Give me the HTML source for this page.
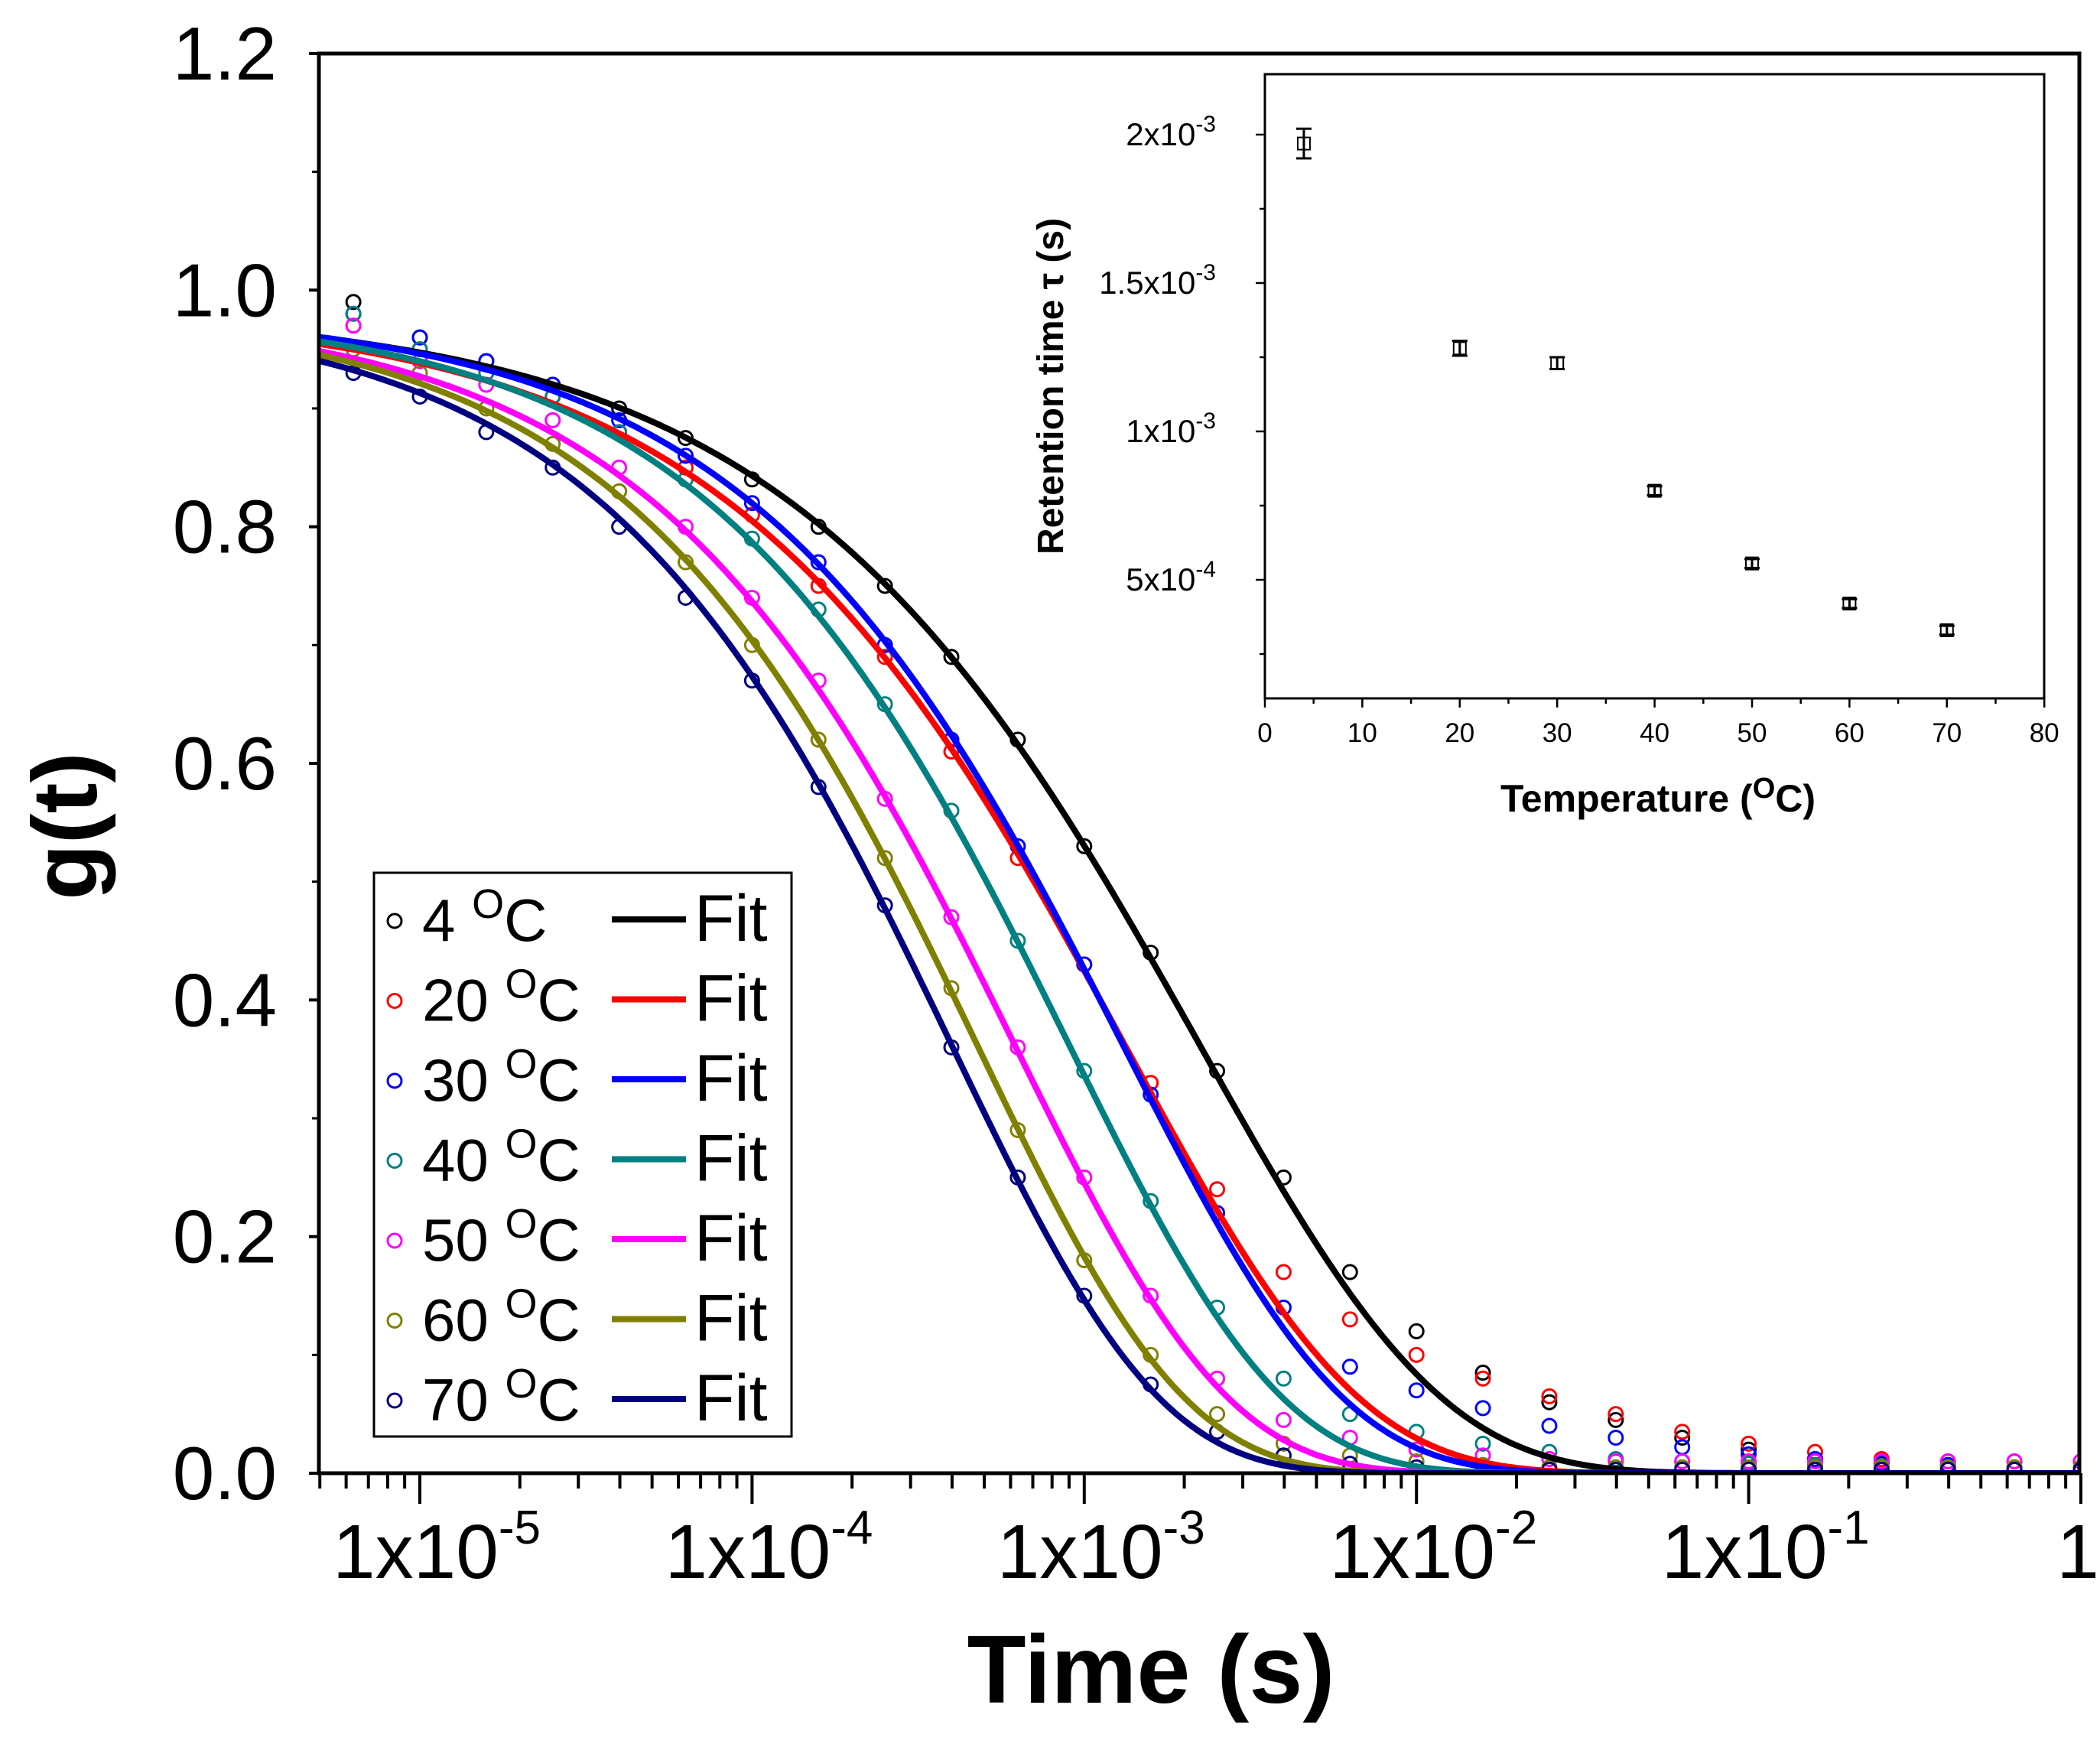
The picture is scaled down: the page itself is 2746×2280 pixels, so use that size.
<!DOCTYPE html>
<html><head><meta charset="utf-8"><style>
html,body{margin:0;padding:0;background:#fff}
svg{display:block;font-family:"Liberation Sans",Arial,sans-serif}
</style></head><body>
<svg id="chart" width="2746" height="2280" viewBox="0 0 2746 2280" xmlns="http://www.w3.org/2000/svg">
<defs><clipPath id="clipMain"><rect x="417" y="70" width="2302" height="1856"/></clipPath></defs>
<rect width="2746" height="2280" fill="#fff"/>
<g id="main"></g>
<g id="inset"></g>
</svg>
<script>
// ---- main chart data ----
const seriesColors = ["#000000","#ff0000","#0000ff","#008080","#ff00ff","#808000","#000080"];
const temps = [4,20,30,40,50,60,70];
const timeLogStart = -5.2;
const timeLogStep = 0.2;
const data4 = [.99,.96,.94,.92,.90,.875,.84,.80,.75,.69,.62,.53,.44,.34,.25,.17,.12,.085,.06,.045,.03,.02,.012,.008,.005,.003,.002];
const data20 = [.97,.95,.93,.91,.88,.85,.81,.75,.69,.61,.52,.43,.33,.24,.17,.13,.10,.08,.065,.05,.035,.025,.018,.012,.01,.01,.01];
const data30 = [.98,.96,.94,.92,.89,.86,.82,.77,.70,.62,.53,.43,.32,.22,.14,.09,.07,.055,.04,.03,.022,.016,.012,.009,.007,.005,.004];
const data40 = [.98,.95,.93,.91,.88,.84,.79,.73,.65,.56,.45,.34,.23,.14,.08,.05,.035,.025,.018,.012,.01,.008,.007,.006,.005,.005,.005];
const data50 = [.97,.94,.92,.89,.85,.80,.74,.67,.57,.47,.36,.25,.15,.08,.045,.03,.02,.015,.012,.01,.01,.01,.01,.01,.01,.01,.01];
const data60 = [.95,.93,.90,.87,.83,.77,.70,.62,.52,.41,.29,.18,.10,.05,.025,.015,.01,.007,.005,.005,.005,.005,.005,.005,.005,.005,.005];
const data70 = [.93,.91,.88,.85,.80,.74,.67,.58,.48,.36,.25,.15,.075,.035,.015,.008,.005,.003,.003,.003,.003,.003,.003,.003,.003,.003,.003];
const seriesData = [data4,data20,data30,data40,data50,data60,data70];
// stretched-exponential fit parameters
const fitLogTau = [-2.653,-2.879,-2.884,-3.046,-3.21,-3.323,-3.40];
const fitBeta = [0.60,0.62,0.66,0.68,0.68,0.70,0.70];
const fitAmp = [0.985,0.985,0.985,0.985,0.985,0.985,0.985];
const yTicks = [0,0.2,0.4,0.6,0.8,1.0,1.2];
const yTickLabels = ["0.0","0.2","0.4","0.6","0.8","1.0","1.2"];
const xDecades = [-5,-4,-3,-2,-1,0];
const xTickExp = ["-5","-4","-3","-2","-1",""];
// ---- inset data ----
const insetT = [4,20,30,40,50,60,70];
const insetTau = [1.97e-3,1.28e-3,1.23e-3,0.80e-3,0.555e-3,0.42e-3,0.33e-3];
const insetErr = [0.05e-3,0.025e-3,0.02e-3,0.015e-3,0.015e-3,0.015e-3,0.015e-3];
const insetXTicks = [0,10,20,30,40,50,60,70,80];
const insetYTicks = [5e-4,1e-3,1.5e-3,2e-3];
const insetYLabelMant = ["5","1","1.5","2"];
const insetYLabelExp = ["-4","-3","-3","-3"];

const NS="http://www.w3.org/2000/svg";
function mk(tag,attrs,parent){const e=document.createElementNS(NS,tag);for(const k in attrs)e.setAttribute(k,attrs[k]);parent.appendChild(e);return e;}
const X = lt => 549 + (lt+5)*434.4;
const Y = g => 1926 - g*1546.7;
const main=document.getElementById('main');

// markers
const mG=mk('g',{'clip-path':'url(#clipMain)'},main);


for(let s=0;s<7;s++){
  const arr=seriesData[s];
  for(let i=0;i<arr.length;i++){
    const lt=timeLogStart+i*timeLogStep;
    const c=mk('circle',{cx:X(lt),cy:Y(arr[i]),r:9,fill:'none',stroke:seriesColors[s],'stroke-width':3},mG);
    
    
  }
}
// fits
const fitG=mk('g',{'clip-path':'url(#clipMain)'},main);


for(let s=0;s<7;s++){
  let d='';
  for(let lt=-5.35;lt<=0.05;lt+=0.01){
    const u=lt-fitLogTau[s];
    const g=fitAmp[s]*Math.exp(-Math.pow(10,fitBeta[s]*u));
    d+=(d?'L':'M')+X(lt).toFixed(1)+','+Y(g).toFixed(1);
  }
  const p=mk('path',{d:d,fill:'none',stroke:seriesColors[s],'stroke-width':8},fitG);
  
  
}
// axes frame
const fr=mk('rect',{x:417,y:70,width:2302,height:1856,fill:'none',stroke:'#000','stroke-width':5},main);


// y ticks
for(let i=0;i<yTicks.length;i++){
  const y=Y(yTicks[i]);
  mk('line',{x1:404,x2:417,y1:y,y2:y,stroke:'#000','stroke-width':4},main);
  const t=mk('text',{x:362,y:y+34,'text-anchor':'end','font-size':98},main);
  t.textContent=yTickLabels[i];
  
  
  if(i<yTicks.length-1){const ym=Y(yTicks[i]+0.1);mk('line',{x1:408,x2:417,y1:ym,y2:ym,stroke:'#000','stroke-width':3},main);}
}
// x ticks
for(let i=0;i<xDecades.length;i++){
  const dx=X(xDecades[i]);
  mk('line',{x1:dx,x2:dx,y1:1926,y2:1966,stroke:'#000','stroke-width':4},main);
  const t=mk('text',{x:dx+(xTickExp[i]?22:-4),y:2063,'text-anchor':'middle','font-size':100},main);
  
  
  if(xTickExp[i]){t.textContent='1x10';const sp=mk('tspan',{dy:-45,'font-size':62},t);sp.textContent=xTickExp[i];}
  else t.textContent='1';
  for(let m=2;m<=9;m++){
    const mx=X(xDecades[i]+Math.log10(m));
    if(mx<2719) mk('line',{x1:mx,x2:mx,y1:1926,y2:1946,stroke:'#000','stroke-width':4},main);
    const mx2=X(xDecades[i]-1+Math.log10(m));
    if(i===0&&mx2>417) mk('line',{x1:mx2,x2:mx2,y1:1926,y2:1946,stroke:'#000','stroke-width':4},main);
  }
}
// axis titles
const yt=mk('text',{x:0,y:0,transform:'translate(126,1080) rotate(-90)','text-anchor':'middle','font-size':120,'font-weight':'bold'},main);
yt.textContent='g(t)';


const xt=mk('text',{x:1505,y:2226,'text-anchor':'middle','font-size':126,'font-weight':'bold'},main);
xt.textContent='Time (s)';


// legend
const lg=mk('g',{},main);


mk('rect',{x:489,y:1141,width:546,height:737,fill:'#fff',stroke:'#000','stroke-width':3},lg);
for(let s=0;s<7;s++){
  const y=1198+s*104.5;
  const e=mk('g',{},lg);
  
  
  mk('circle',{cx:516,cy:y+6,r:9,fill:'none',stroke:seriesColors[s],'stroke-width':3},e);
  const t=mk('text',{x:552,y:y+32,'font-size':78},e);
  const a=mk('tspan',{},t);a.textContent=String(temps[s])+' ';
  const b=mk('tspan',{dy:-30,'font-size':54},t);b.textContent='O';
  const c=mk('tspan',{dy:30},t);c.textContent='C';
  mk('line',{x1:800,x2:897,y1:y+4,y2:y+4,stroke:seriesColors[s],'stroke-width':8},e);
  const f=mk('text',{x:908,y:y+32,'font-size':86},e);f.textContent='Fit';
}

// ---- inset ----
const ins=document.getElementById('inset');
const IX = T => 1654 + T*12.74;
const IY = v => 758 - (v-5e-4)*388000;
mk('rect',{x:1654,y:97,width:1019,height:816,fill:'#fff',stroke:'#000','stroke-width':3},ins);
for(let i=0;i<insetXTicks.length;i++){
  const x=IX(insetXTicks[i]);
  mk('line',{x1:x,x2:x,y1:913,y2:925,stroke:'#000','stroke-width':2.5},ins);
  if(i<insetXTicks.length-1){const xm=IX(insetXTicks[i]+5);mk('line',{x1:xm,x2:xm,y1:913,y2:920,stroke:'#000','stroke-width':2.5},ins);}
  const t=mk('text',{x:x,y:970,'text-anchor':'middle','font-size':35},ins);
  t.textContent=String(insetXTicks[i]);
  
  
}
for(let i=0;i<insetYTicks.length;i++){
  const y=IY(insetYTicks[i]);
  mk('line',{x1:1642,x2:1654,y1:y,y2:y,stroke:'#000','stroke-width':2.5},ins);
  const ym=IY(insetYTicks[i]-2.5e-4);mk('line',{x1:1647,x2:1654,y1:ym,y2:ym,stroke:'#000','stroke-width':2.5},ins);
  const t=mk('text',{x:1590,y:y+14,'text-anchor':'end','font-size':42},ins);
  
  
  const a=mk('tspan',{},t);a.textContent=insetYLabelMant[i]+'x10';
  const b=mk('tspan',{dy:-18,'font-size':30},t);b.textContent=insetYLabelExp[i];
}
for(let i=0;i<insetT.length;i++){
  const x=IX(insetT[i]),y=IY(insetTau[i]),e=insetErr[i]*388000;
  const g=mk('g',{},ins);
  
  
  mk('rect',{x:x-8,y:y-8,width:16,height:16,fill:'none',stroke:'#000','stroke-width':2},g);
  mk('line',{x1:x,x2:x,y1:y-e,y2:y+e,stroke:'#000','stroke-width':3},g);
  mk('line',{x1:x-10,x2:x+10,y1:y-e,y2:y-e,stroke:'#000','stroke-width':3},g);
  mk('line',{x1:x-10,x2:x+10,y1:y+e,y2:y+e,stroke:'#000','stroke-width':3},g);
}
const it=mk('text',{x:0,y:0,transform:'translate(1390,505) rotate(-90)','text-anchor':'middle','font-size':48,'font-weight':'bold'},ins);
it.textContent='Retention time τ (s)';


const ix=mk('text',{x:2168,y:1061,'text-anchor':'middle','font-size':50,'font-weight':'bold'},ins);


const p1=mk('tspan',{},ix);p1.textContent='Temperature (';
const p2=mk('tspan',{dy:-18,'font-size':38},ix);p2.textContent='O';
const p3=mk('tspan',{dy:18},ix);p3.textContent='C)';
</script>
</body></html>
